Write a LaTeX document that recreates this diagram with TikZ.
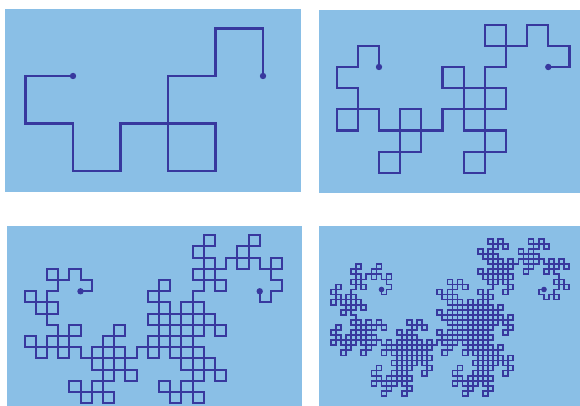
\documentclass[tikz,border=0pt]{standalone}

\definecolor{panelblue}{RGB}{138,191,230}
\definecolor{curveblue}{RGB}{56,56,158}

% Heighway dragon as one path: \builddragon{segments}{start quarter turns}{step}
% turn k = 2^m q (q odd): left if q mod 4 = 1, right otherwise
\makeatletter
\newcount\dragonk
\newcount\dragonq
\newcount\dragonr
\newcount\dragondir
\newcommand{\builddragon}[3]{%
  \dragondir=#2\relax
  \edef\dragonpath{-- ++(\number\numexpr90*\dragondir\relax:#3)}%
  \dragonk=1\relax
  \@whilenum\dragonk<#1\do{%
    \dragonq=\dragonk
    \loop\unless\ifodd\dragonq \divide\dragonq by 2\relax\repeat
    \dragonr=\dragonq \divide\dragonr by 4\relax
    \multiply\dragonr by -4\relax \advance\dragonr by \dragonq
    \ifnum\dragonr=1 \advance\dragondir by 1\relax\else\advance\dragondir by 3\relax\fi
    \ifnum\dragondir>3 \advance\dragondir by -4\relax\fi
    \edef\dragonpath{\dragonpath -- ++(\number\numexpr90*\dragondir\relax:#3)}%
    \advance\dragonk by 1\relax
  }%
}
\makeatother

\begin{document}
\begin{tikzpicture}[x=1pt, y=1pt,
    panel/.style={fill=panelblue},
    dragon/.style={draw=curveblue, line join=miter},
    enddot/.style={fill=curveblue}
  ]
    \useasboundingbox (0,0) rectangle (580,406);

    % Start and end points of the four curves
    \coordinate (S1) at (73, 330);   \coordinate (E1) at (263, 330);
    \coordinate (S2) at (379, 339);  \coordinate (E2) at (548.3, 339);
    \coordinate (S3) at (80.5, 114.7); \coordinate (E3) at (259.7, 114.7);
    \coordinate (S4) at (381.5, 116.5); \coordinate (E4) at (544, 116.5);

    % 1. Background panels
    \fill[panel] (5, 214) rectangle (301, 397);
    \fill[panel] (319, 213) rectangle (580, 396);
    \fill[panel] (7, 0) rectangle (302, 180);
    \fill[panel] (319, 0) rectangle (580, 180);

    % 2. Dragon curves of order 4, 6, 8 and 10
    \builddragon{16}{2}{47.5}
    \draw[dragon, line width=2.2pt] (S1) \dragonpath;
    \builddragon{64}{1}{21.16}
    \draw[dragon, line width=2.1pt] (S2) \dragonpath;
    \builddragon{256}{0}{11.2}
    \draw[dragon, line width=2pt] (S3) \dragonpath;
    \builddragon{1024}{3}{5.07}
    \draw[dragon, line width=1.7pt] (S4) \dragonpath;

    % 3. End points (dots)
    \foreach \p in {S1,E1,S2,E2,S3,E3} {
        \fill[enddot] (\p) circle (3.2);
    }
    \foreach \p in {S4,E4} {
        \fill[enddot] (\p) circle (2.8);
    }
\end{tikzpicture}
\end{document}
